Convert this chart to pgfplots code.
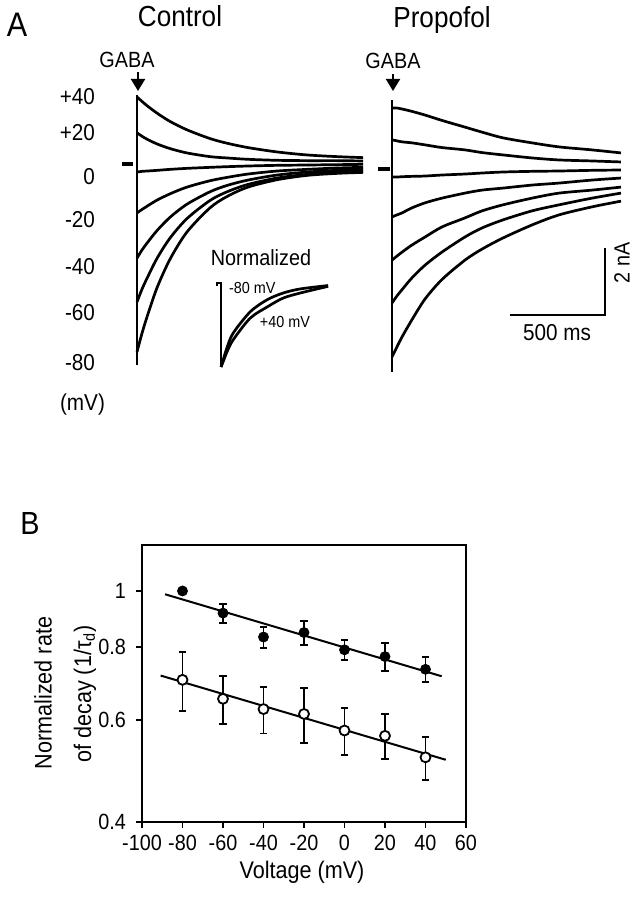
\documentclass[border=0pt]{standalone}
\usepackage{fontspec}
\setmainfont{Liberation Sans}[FakeStretch=0.9]
\usepackage{pgfplots}
\pgfplotsset{compat=1.18}
\usepackage{pgfplotstable}
\usetikzlibrary{arrows.meta}
\newcommand\setfs[1]{\fontsize{#1}{#1}\selectfont}

% Control traces: time (ms) vs current (nA), holding potentials in mV
\pgfplotstableread{
t    m80   m60   m40   m20   z     p20   p40
0    -5.61 -4.12 -2.81 -1.46 -0.24 0.93 2.00
26   -5.06 -3.74 -2.57 -1.36 -0.22 0.83 1.87
53   -4.56 -3.41 -2.36 -1.26 -0.21 0.74 1.74
105  -3.70 -2.82 -1.99 -1.08 -0.19 0.60 1.52
174  -2.84 -2.21 -1.59 -0.89 -0.16 0.46 1.27
263  -2.03 -1.63 -1.20 -0.69 -0.13 0.33 1.02
384  -1.31 -1.09 -0.83 -0.50 -0.10 0.22 0.76
474  -0.97 -0.83 -0.64 -0.40 -0.08 0.18 0.62
584  -0.69 -0.61 -0.48 -0.30 -0.06 0.14 0.49
737  -0.47 -0.42 -0.33 -0.21 -0.04 0.11 0.36
895  -0.34 -0.31 -0.24 -0.16 -0.03 0.10 0.27
1053 -0.28 -0.25 -0.19 -0.12 -0.02 0.10 0.22
1190 -0.25 -0.22 -0.16 -0.10 -0.01 0.09 0.19
}\ctrl

% Propofol traces
\pgfplotstableread{
t    m80   m60   m40   m20   z     p20   p40
0    -5.61 -4.00 -2.72 -1.43 -0.24 0.87 1.82
26   -5.31 -3.79 -2.60 -1.37 -0.24 0.84 1.82
53   -5.01 -3.60 -2.48 -1.31 -0.23 0.81 1.79
105  -4.50 -3.25 -2.27 -1.16 -0.22 0.78 1.72
174  -3.88 -2.87 -2.03 -1.01 -0.21 0.72 1.61
263  -3.30 -2.48 -1.73 -0.87 -0.18 0.64 1.45
384  -2.72 -2.03 -1.46 -0.72 -0.15 0.57 1.25
474  -2.39 -1.76 -1.25 -0.63 -0.12 0.49 1.10
584  -2.06 -1.52 -1.07 -0.57 -0.09 0.42 0.93
737  -1.67 -1.25 -0.87 -0.48 -0.07 0.33 0.78
879  -1.37 -1.07 -0.72 -0.42 -0.06 0.27 0.66
1053 -1.13 -0.87 -0.63 -0.33 -0.04 0.24 0.57
1205 -0.96 -0.72 -0.54 -0.27 -0.03 0.21 0.48
}\prop

% Normalized inset traces
\pgfplotstableread{
t    m80    p40
0    -1.00  -1.00
32   -0.88  -0.91
63   -0.77  -0.82
126  -0.60  -0.68
305  -0.345 -0.42
484  -0.20  -0.286
652  -0.12  -0.18
830  -0.071 -0.12
1125 -0.03  -0.04
}\norm

\pgfplotsset{
  tr/.style={black, line width=1.35pt, smooth, mark=none},
  ln/.style={black, line width=1.3pt, mark=none},
}

\begin{document}
\begin{tikzpicture}
\useasboundingbox (0,0) rectangle (319pt,450pt);

% ---------- Panel A: Control ----------
\begin{axis}[at={(59pt,259.125pt)}, anchor=south west, x=0.095pt, y=16.75pt,
  xmin=-100, xmax=1250, ymin=-6.5, ymax=2.5, axis lines=none, clip=false]
\addplot[tr] table[x=t,y=m80]{\ctrl};
\addplot[tr] table[x=t,y=m60]{\ctrl};
\addplot[tr] table[x=t,y=m40]{\ctrl};
\addplot[tr] table[x=t,y=m20]{\ctrl};
\addplot[tr] table[x=t,y=z]{\ctrl};
\addplot[tr] table[x=t,y=p20]{\ctrl};
\addplot[tr] table[x=t,y=p40]{\ctrl};
\addplot[ln] coordinates {(0,2.06) (0,-6.0)};
\addplot[ln, line width=1.7pt] coordinates {(-79,0) (-21,0)};
\end{axis}

% ---------- Panel A: Propofol ----------
\begin{axis}[at={(186.5pt,256.625pt)}, anchor=south west, x=0.095pt, y=16.75pt,
  xmin=-100, xmax=1250, ymin=-6.5, ymax=2.5, axis lines=none, clip=false]
\addplot[tr] table[x=t,y=m80]{\prop};
\addplot[tr] table[x=t,y=m60]{\prop};
\addplot[tr] table[x=t,y=m40]{\prop};
\addplot[tr] table[x=t,y=m20]{\prop};
\addplot[tr] table[x=t,y=z]{\prop};
\addplot[tr] table[x=t,y=p20]{\prop};
\addplot[tr] table[x=t,y=p40]{\prop};
\addplot[ln] coordinates {(0,2.06) (0,-6.06)};
\addplot[ln, line width=1.7pt] coordinates {(-74,0) (-8,0)};
% scale bars: 500 ms, 2 nA
\addplot[ln, line width=1pt] coordinates {(621,-4.36) (1121,-4.36) (1121,-2.36)};
\end{axis}

% ---------- Inset: normalized ----------
\begin{axis}[at={(108.12pt,262.3pt)}, anchor=south west, x=0.0476pt, y=42pt,
  xmin=-50, xmax=1150, ymin=-1.1, ymax=0.1, axis lines=none, clip=false]
\addplot[tr] table[x=t,y=m80]{\norm};
\addplot[tr] table[x=t,y=p40]{\norm};
\addplot[ln] coordinates {(-40,-0.03) (-40,0) (0,0) (0,-1.0)};
\end{axis}

% ---------- Panel B ----------
\begin{axis}[at={(71pt,39pt)}, anchor=south west, width=162pt, height=138.5pt,
  scale only axis, xmin=-100, xmax=60, ymode=log, ymin=0.4, ymax=1.2,
  xtick={-100,-80,-60,-40,-20,0,20,40,60},
  ytick={0.4,0.6,0.8,1}, yticklabels={0.4,0.6,0.8,1}, yminorticks=false,
  tick align=outside, xtick pos=left, ytick pos=left,
  axis line style={line width=0.8pt}, major tick length=3pt,
  tick style={line width=0.8pt, black}, clip=false,
  tick label style={font=\setfs{11}},
  yticklabel style={xshift=-1.5pt},
  /pgf/number format/assume math mode=true]
\addplot[black, line width=1pt, mark=none] coordinates {(-88.6,0.987) (48,0.713)};
\addplot[black, line width=1pt, mark=none] coordinates {(-90.8,0.715) (50,0.512)};
\addplot[black, only marks, mark=*, mark size=2.5pt,
  error bars/.cd, y dir=both, y explicit,
  error bar style={line width=0.9pt},
  error mark options={rotate=90, mark size=1.8pt, line width=0.9pt}]
  coordinates {
  (-80,1.000) +- (0,0)
  (-60,0.916) +- (0,0.035)
  (-40,0.833) +- (0,0.034)
  (-20,0.848) +- (0,0.040)
  (0,0.792)   +- (0,0.032)
  (20,0.771)  +- (0,0.043)
  (40,0.733)  +- (0,0.037)
  };
\addplot[black, only marks, mark=*, mark size=2.5pt,
  mark options={fill=white, draw=black, line width=0.9pt},
  error bars/.cd, y dir=both, y explicit,
  error bar style={line width=0.9pt},
  error mark options={rotate=90, mark size=1.8pt, line width=0.9pt}]
  coordinates {
  (-80,0.703) +- (0,0.081)
  (-60,0.652) +- (0,0.062)
  (-40,0.626) +- (0,0.058)
  (-20,0.614) +- (0,0.066)
  (0,0.575)   +- (0,0.053)
  (20,0.563)  +- (0,0.050)
  (40,0.517)  +- (0,0.044)
  };
\end{axis}

% ---------- Text (coordinates in reference pixels, y from bottom) ----------
\begin{scope}[x=0.5pt,y=0.5pt]
\node[font=\setfs{17}] at (17,875) {A};
\node[font=\setfs{14.5}] at (180,884) {Control};
\node[font=\setfs{14.5}] at (442,880) {Propofol};
\node[font=\setfs{11}] at (127,840) {GABA};
\node[font=\setfs{11}] at (393,839) {GABA};
\draw[line width=1pt, -{Triangle[width=7pt,length=6pt]}] (138,828) -- (138,809);
\draw[line width=1pt, -{Triangle[width=7pt,length=6pt]}] (393,826) -- (393,809);
\begin{scope}[every node/.style={anchor=east, font=\setfs{11.5}}]
\node at (102,803) {+40};
\node at (102,767) {+20};
\node at (102,723) {0};
\node at (102,680) {-20};
\node at (102,633) {-40};
\node at (102,587) {-60};
\node at (102,537) {-80};
\node at (112,495) {(mV)};
\end{scope}
\node[font=\setfs{11}] at (261,642) {Normalized};
\node[font=\setfs{8},anchor=west] at (222,612) {-80 mV};
\node[font=\setfs{8}] at (285,578) {+40 mV};
\node[font=\setfs{11.5}] at (557,567) {500 ms};
\node[font=\setfs{11},rotate=90] at (622,637) {2 nA};
\node[font=\setfs{16}] at (30,377) {B};
\node[font=\setfs{12},rotate=90] at (43,207) {Normalized rate};
\node[font=\setfs{12},rotate=90] at (85,206) {of decay (1/τ\textsubscript{d})};
\node[font=\setfs{12}] at (302,28) {Voltage (mV)};
\end{scope}
\end{tikzpicture}
\end{document}
